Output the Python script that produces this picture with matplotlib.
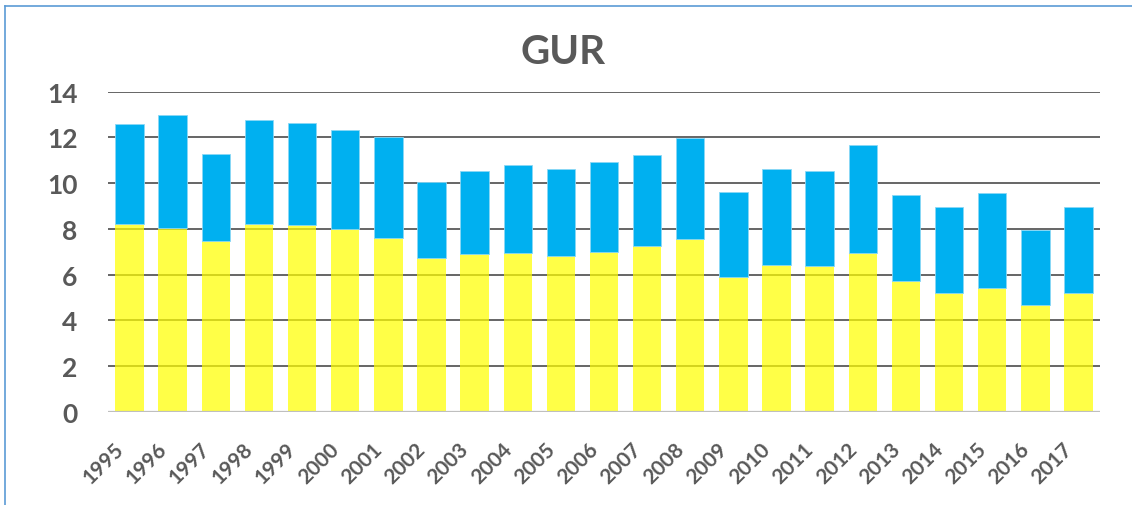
import matplotlib.pyplot as plt
import matplotlib.transforms as mtransforms
from matplotlib.lines import Line2D

years = [str(y) for y in range(1995, 2018)]
lower = [8.21, 8.03, 7.48, 8.21, 8.17, 8.02, 7.61, 6.72, 6.91, 6.97, 6.83, 6.99,
         7.25, 7.55, 5.91, 6.43, 6.39, 6.93, 5.71, 5.21, 5.40, 4.66, 5.20]
upper = [4.37, 4.97, 3.79, 4.57, 4.45, 4.32, 4.40, 3.35, 3.61, 3.83, 3.77, 3.93,
         3.99, 4.43, 3.70, 4.18, 4.13, 4.76, 3.78, 3.73, 4.18, 3.29, 3.78]
yticks = [0, 2, 4, 6, 8, 10, 12, 14]

plt.rcParams['font.family'] = ['Lato', 'DejaVu Sans']
txt = '#595959'

fig = plt.figure(figsize=(11.32, 5.06), dpi=100)
ax = fig.add_axes([108 / 1132, 1 - 413 / 506, 992 / 1132, (413 - 92.7) / 506])

x = list(range(len(years)))
ax.bar(x, lower, width=0.66, color='#FFFF00', alpha=0.72, zorder=3)
ax.bar(x, upper, bottom=lower, width=0.66, color='#00B0F0',
       edgecolor='#8ad8f5', linewidth=0.6, zorder=3)

ax.set_xlim(-0.5, len(years) - 0.5)
ax.set_ylim(0, 14)
ax.set_yticks(yticks)
ax.set_yticklabels([str(v) for v in yticks], fontsize=19, fontweight='bold', color=txt)
ax.set_xticks(x)
ax.set_xticklabels(years, rotation=45, ha='right', va='center', rotation_mode='anchor',
                   fontsize=15, fontweight='bold', color=txt)
ax.tick_params(axis='y', length=0, pad=22)
ax.tick_params(axis='x', length=0, pad=24)

# nudge the rotated year labels to the left
shift = mtransforms.ScaledTranslation(-9 / 100, 0, fig.dpi_scale_trans)
for lab in ax.get_xticklabels():
    lab.set_transform(lab.get_transform() + shift)

for v in yticks[1:]:
    ax.axhline(v, color='#595959', linewidth=1.3, zorder=1)
ax.axhline(0, color='#BFBFBF', linewidth=1.6, zorder=4)
for s in ax.spines.values():
    s.set_visible(False)

fig.text(0.497, 0.896, 'GUR', ha='center', va='center', fontsize=29,
         fontweight='bold', color=txt)

# chart frame (only top and left edges visible)
fig.add_artist(Line2D([4.5 / 1132, 1], [1 - 7 / 506, 1 - 7 / 506],
                      transform=fig.transFigure, color='#5B9BD5', linewidth=1.2))
fig.add_artist(Line2D([4.5 / 1132, 4.5 / 1132], [0, 1 - 7 / 506],
                      transform=fig.transFigure, color='#5B9BD5', linewidth=1.2))

plt.savefig('out.png', dpi=100)
